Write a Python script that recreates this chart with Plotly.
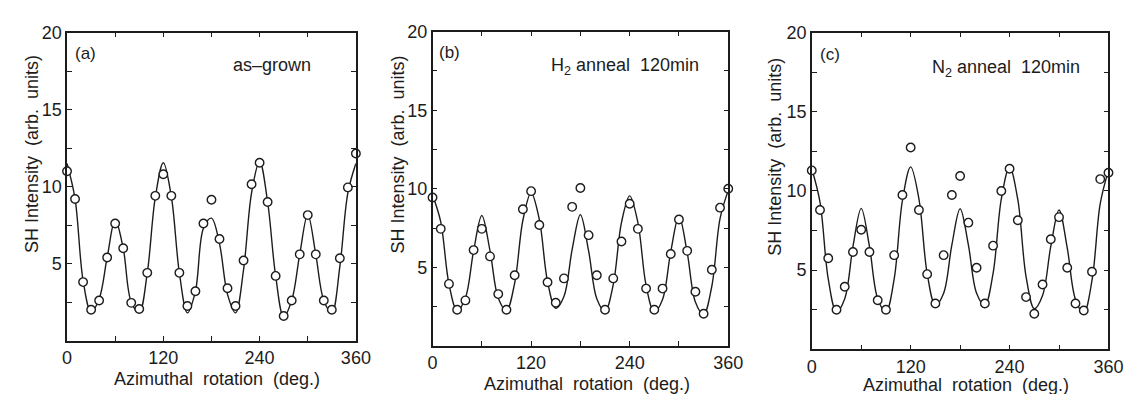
import plotly.graph_objects as go

# ---------------- data ----------------
angles = list(range(0, 361, 10))

# measured points (open circles)
pts_a = [11.0, 9.2, 3.8, 2.0, 2.6, 5.4, 7.6, 6.0, 2.45, 2.05, 4.4, 9.4, 10.8, 9.4, 4.4, 2.25,
         3.2, 7.6, 9.15, 6.6, 3.4, 2.25, 5.2, 10.15, 11.55, 9.0, 4.2, 1.6, 2.6, 5.6, 8.15, 5.6,
         2.6, 2.0, 5.35, 9.95, 12.15]
pts_b = [9.45, 7.45, 3.95, 2.3, 2.9, 6.1, 7.45, 5.7, 3.3, 2.3, 4.5, 8.7, 9.85, 7.7, 4.05, 2.75,
         4.3, 8.85, 10.05, 7.05, 4.5, 2.3, 4.3, 6.65, 9.05, 7.45, 3.65, 2.3, 3.65, 5.85, 8.05, 6.05,
         3.45, 2.05, 4.85, 8.8, 10.0]
pts_c = [11.3, 8.8, 5.75, 2.5, 3.95, 6.15, 7.55, 6.15, 3.1, 2.5, 5.95, 9.75, 12.75, 8.8, 4.75, 2.9,
         5.95, 9.75, 10.95, 8.0, 5.15, 2.9, 6.55, 10.0, 11.4, 8.15, 3.3, 2.25, 4.1, 6.95, 8.35, 5.15,
         2.9, 2.45, 4.9, 10.75, 11.15]

# fitted curves (at 10 deg steps)
fit_a = [11.5, 9.2, 3.9, 1.85, 2.7, 5.4, 7.85, 6.0, 2.5, 1.85, 4.4, 9.3, 11.55, 9.35, 4.4, 1.8,
         3.2, 7.3, 7.95, 6.3, 3.0, 1.8, 4.6, 9.6, 11.65, 9.0, 4.2, 1.55, 2.6, 5.6, 8.2, 5.6,
         2.6, 1.8, 4.8, 9.6, 11.5]
fit_b = [9.6, 7.9, 3.95, 2.25, 3.05, 6.05, 8.3, 6.05, 3.05, 2.25, 4.0, 8.0, 9.75, 8.05, 4.1, 2.4,
         3.15, 6.15, 8.35, 6.05, 3.0, 2.2, 3.9, 7.85, 9.55, 7.85, 3.85, 2.15, 2.95, 6.0, 8.25, 5.95,
         2.8, 2.0, 3.8, 8.1, 9.9]
fit_c = [11.4, 9.3, 4.45, 2.37, 3.2, 6.5, 8.9, 6.5, 3.2, 2.37, 4.45, 9.4, 11.52, 9.5, 4.8, 2.78,
         3.55, 6.6, 8.88, 6.6, 3.55, 2.78, 4.8, 9.5, 11.52, 9.45, 4.6, 2.57, 3.4, 6.5, 8.8, 6.4,
         3.15, 2.3, 4.35, 9.2, 11.3]

panel_tags = ["(a)", "(b)", "(c)"]
panel_labels = ["as\u2013grown", "H<sub>2</sub> anneal  120min", "N<sub>2</sub> anneal  120min"]

x_tickvals = [0, 120, 240, 360]
x_ticktext = ["0", "120", "240", "360"]
y_tickvals = [5, 10, 15, 20]
y_ticktext = ["5", "10", "15", "20"]

# ---------------- figure ----------------
W, H = 1142, 394
INK = "#1c1c1c"
FONT = "Liberation Sans, Arial, sans-serif"

# panel boxes in pixels: (left, right, top, bottom)
boxes = [(55, 349, 15, 331), (427, 728, 14, 336.5), (813, 1115, 15, 340)]

fig = go.Figure()
series = [(pts_a, fit_a), (pts_b, fit_b), (pts_c, fit_c)]

for i, (pts, fit) in enumerate(series):
    n = "" if i == 0 else str(i + 1)
    fig.add_trace(go.Scatter(x=angles, y=fit, mode="lines",
                             line=dict(color=INK, width=1.4, shape="spline", smoothing=1.0),
                             xaxis="x" + n, yaxis="y" + n, showlegend=False, hoverinfo="skip"))
    fig.add_trace(go.Scatter(x=angles, y=pts, mode="markers",
                             marker=dict(symbol="circle", size=8.5, color="white",
                                         line=dict(color=INK, width=1.4)),
                             xaxis="x" + n, yaxis="y" + n, showlegend=False, cliponaxis=False))

layout = dict(width=W, height=H, margin=dict(l=0, r=0, t=0, b=0),
              paper_bgcolor="white", plot_bgcolor="white",
              font=dict(family=FONT, color=INK, size=15))

for i, (l, r, t, b) in enumerate(boxes):
    n = "" if i == 0 else str(i + 1)
    xd = [l / W, r / W]
    yd = [1 - b / H, 1 - t / H]
    common = dict(showgrid=False, zeroline=False, showline=True, linecolor=INK, linewidth=1.5,
                  mirror="ticks", ticks="inside", ticklen=5, tickwidth=1.3, tickcolor=INK,
                  tickfont=dict(family=FONT, size=18, color=INK))
    layout["xaxis" + n] = dict(domain=xd, range=[0, 360], anchor="y" + n,
                               tickvals=x_tickvals, ticktext=x_ticktext,
                               minor=dict(dtick=60, tick0=0, ticks="inside", ticklen=5,
                                          tickwidth=1.3, tickcolor=INK, showgrid=False),
                               **common)
    layout["yaxis" + n] = dict(domain=yd, range=[0, 20], anchor="x" + n,
                               tickvals=y_tickvals, ticktext=y_ticktext,
                               minor=dict(dtick=2.5, tick0=0, ticks="inside", ticklen=5,
                                          tickwidth=1.3, tickcolor=INK, showgrid=False),
                               **common)

fig.update_layout(**layout)

# annotations (pixel positions converted to paper)
def P(px, py):
    return px / W, 1 - py / H

ann = []
tag_pos = [(61, 36), (432, 35), (819, 37)]
lab_pos = [(222, 48), (546, 50), (933, 52)]
ytitle_pos = [(20, 140), (392, 140), (776, 142)]
xtitle_pos = [(208, 370), (584, 376), (970, 377)]
for i in range(3):
    x, y = P(*tag_pos[i])
    ann.append(dict(x=x, y=y, xref="paper", yref="paper", text=panel_tags[i], showarrow=False,
                    xanchor="left", yanchor="middle", font=dict(size=17, family=FONT, color=INK)))
    x, y = P(*lab_pos[i])
    ann.append(dict(x=x, y=y, xref="paper", yref="paper", text=panel_labels[i], showarrow=False,
                    xanchor="left", yanchor="middle", font=dict(size=18, family=FONT, color=INK)))
    x, y = P(*ytitle_pos[i])
    ann.append(dict(x=x, y=y, xref="paper", yref="paper", text="SH Intensity  (arb.  units)",
                    showarrow=False, textangle=-90, xanchor="center", yanchor="middle",
                    font=dict(size=18, family=FONT, color=INK)))
    x, y = P(*xtitle_pos[i])
    ann.append(dict(x=x, y=y, xref="paper", yref="paper", text="Azimuthal  rotation  (deg.)",
                    showarrow=False, xanchor="center", yanchor="middle",
                    font=dict(size=18, family=FONT, color=INK)))
fig.update_layout(annotations=ann)

fig.write_html("out.html")
